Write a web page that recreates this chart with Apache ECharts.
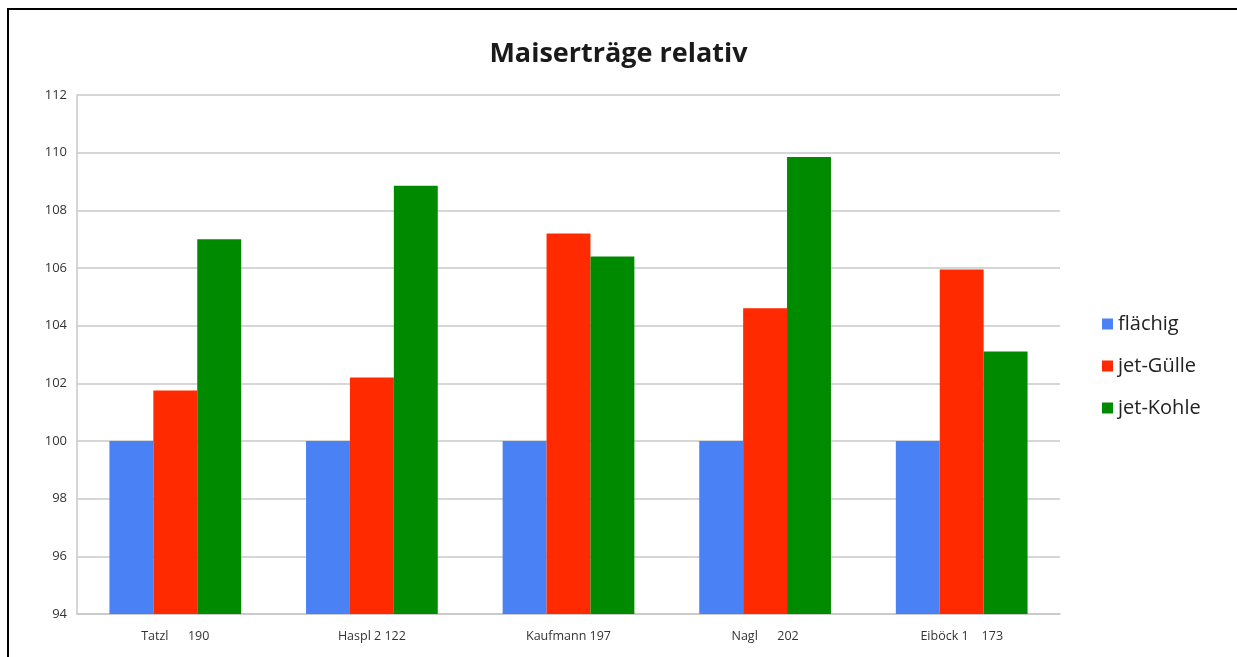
<!DOCTYPE html>
<html>
<head>
<meta charset="utf-8">
<script src="https://cdn.jsdelivr.net/npm/echarts@6/dist/echarts.min.js"></script>
<style>
    html, body { margin: 0; padding: 0; background: #fff; }
    #chart { width: 1237px; height: 657px; }
</style>
</head>
<body>
<div id="chart"></div>
<script>
const categories = ['Tatzl      190', 'Haspl 2 122', 'Kaufmann 197', 'Nagl      202', 'Eiböck 1    173']
const flaechig = [100, 100, 100, 100, 100]
const jetGuelle = [101.75, 102.2, 107.2, 104.6, 105.95]
const jetKohle = [107.0, 108.85, 106.4, 109.85, 103.1]
const yMin = 94
const yMax = 112
const yStep = 2

const myChart = echarts.init(document.getElementById('chart'))

const barSeries = (name, color, data) => ({
    name: name,
    type: 'bar',
    data: data,
    barGap: '0%',
    barCategoryGap: '33%',
    itemStyle: { color: color }
})

const option = {
    animation: false,
    backgroundColor: '#fff',
    textStyle: { fontFamily: 'Open Sans' },
    title: {
        text: 'Maiserträge relativ',
        left: 'center',
        top: 36,
        textStyle: {
            fontFamily: 'Open Sans',
            fontSize: 27,
            fontWeight: 'bold',
            color: '#1a1a1a'
        }
    },
    legend: {
        orient: 'vertical',
        left: 1097,
        top: 309,
        itemWidth: 11,
        itemHeight: 11,
        itemGap: 22,
        icon: 'rect',
        textStyle: { fontSize: 20, color: '#222', fontFamily: 'Open Sans', fontWeight: 500 },
        data: ['flächig', 'jet-Gülle', 'jet-Kohle']
    },
    grid: {
        left: 77,
        right: 177,
        top: 95,
        bottom: 43
    },
    xAxis: {
        type: 'category',
        data: categories,
        axisTick: { show: false },
        axisLine: { lineStyle: { color: '#c8c8c8', width: 1.5 } },
        axisLabel: { color: '#333', fontSize: 12.5, margin: 16 }
    },
    yAxis: {
        type: 'value',
        min: yMin,
        max: yMax,
        interval: yStep,
        axisLine: { show: true, lineStyle: { color: '#c8c8c8', width: 1.5 } },
        axisTick: { show: false },
        splitLine: { lineStyle: { color: '#c8c8c8', width: 1.5 } },
        axisLabel: { color: '#333', fontSize: 13, margin: 10 }
    },
    graphic: [{
        type: 'rect',
        shape: { x: 8, y: 9, width: 1260, height: 670 },
        style: { fill: 'none', stroke: '#000', lineWidth: 2 },
        silent: true
    }],
    series: [
        barSeries('flächig', '#4a82f5', flaechig),
        barSeries('jet-Gülle', '#ff2a00', jetGuelle),
        barSeries('jet-Kohle', '#008a00', jetKohle)
    ]
}

myChart.setOption(option)
</script>
</body>
</html>
